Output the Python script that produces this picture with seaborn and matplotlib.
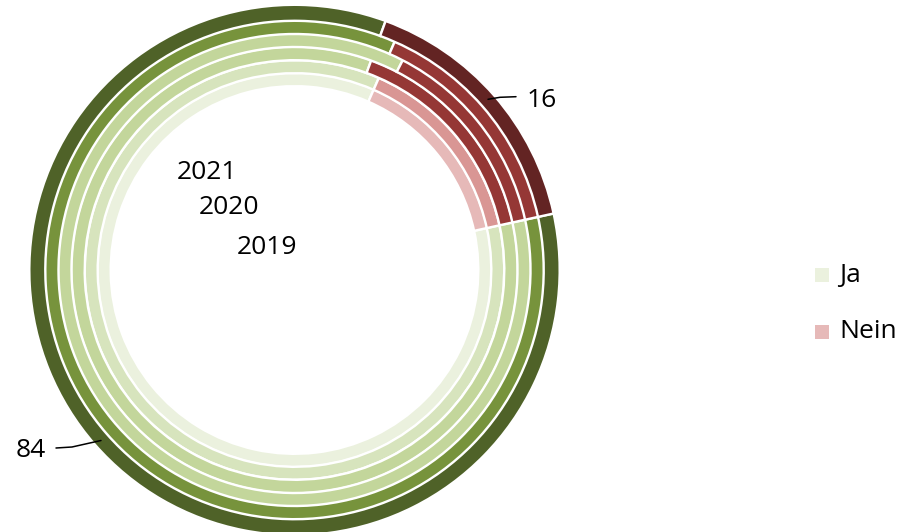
import matplotlib
matplotlib.use("Agg")
import matplotlib.pyplot as plt
from matplotlib.patches import Rectangle
import seaborn as sns

# ---------------- data (outer ring -> inner ring) ----------------
ring_names = ["Ring 1", "Ring 2", "Ring 3", "Ring 4", "Ring 5", "Ring 6"]
ja_values = [84, 85, 86, 84, 85, 85]
nein_values = [16, 15, 14, 16, 15, 15]
series_labels = ["Ja", "Nein"]
year_labels = ["2021", "2020", "2019"]
outer_labels = ["16", "84"]

# ---------------- style ----------------
sns.set_theme(style="white")
plt.rcParams["font.family"] = ["Open Sans", "DejaVu Sans"]

greens = sns.color_palette(["#4F6228", "#77933C", "#C3D69B", "#C3D69B", "#D7E4BD", "#EBF1DE"])
reds = sns.color_palette(["#632423", "#953735", "#953735", "#953735", "#D99694", "#E6B9B8"])

W, H = 901, 532
fig = plt.figure(figsize=(W / 100, H / 100), dpi=100)
ax = fig.add_axes([0, 0, 1, 1])


def py(y):
    return H - y


cx, cy = 294.5, 270
ring_outer = [264, 249.6, 235.6, 222.2, 208.6, 196]
ring_inner = [250.4, 237.2, 224.2, 211, 198, 185]
gap_px = 2.4
lw_pt = gap_px * 72 / 100
comp = gap_px / 2

# draw inner rings first so outer rings sit on top
for i in reversed(range(len(ring_names))):
    r_out = ring_outer[i] + comp
    width = (ring_outer[i] - ring_inner[i]) + 2 * comp
    ax.pie(
        [ja_values[i], nein_values[i]],
        radius=r_out,
        center=(cx, py(cy)),
        startangle=12.3,
        counterclock=False,
        colors=[greens[i], reds[i]],
        wedgeprops=dict(width=width, edgecolor="white", linewidth=lw_pt),
    )

ax.set_xlim(0, W)
ax.set_ylim(0, H)
ax.set_aspect("equal")
ax.axis("off")

fs = 19
# year labels
for lab, (x, yb) in zip(year_labels, [(177, 179), (199, 214), (237, 253.5)]):
    ax.text(x, py(yb), lab, fontsize=fs, ha="left", va="baseline", color="black")

# outer value labels with leader lines
ax.text(527, py(106.7), outer_labels[0], fontsize=fs, ha="left", va="baseline", color="black")
ax.plot([488, 500, 516], [py(99.3), py(97.3), py(96.7)], color="black", lw=1.1)
ax.text(16, py(457), outer_labels[1], fontsize=fs, ha="left", va="baseline", color="black")
ax.plot([56, 72, 101], [py(448), py(447), py(440.5)], color="black", lw=1.1)

# legend
for lab, col, (sy, tb) in zip(series_labels, [greens[5], reds[5]], [(268, 282), (324.5, 337.5)]):
    ax.add_patch(Rectangle((815, py(sy + 14)), 14, 14, facecolor=col, edgecolor="none"))
    ax.text(839, py(tb), lab, fontsize=fs, ha="left", va="baseline", color="black")

fig.savefig("out.png", dpi=100)
